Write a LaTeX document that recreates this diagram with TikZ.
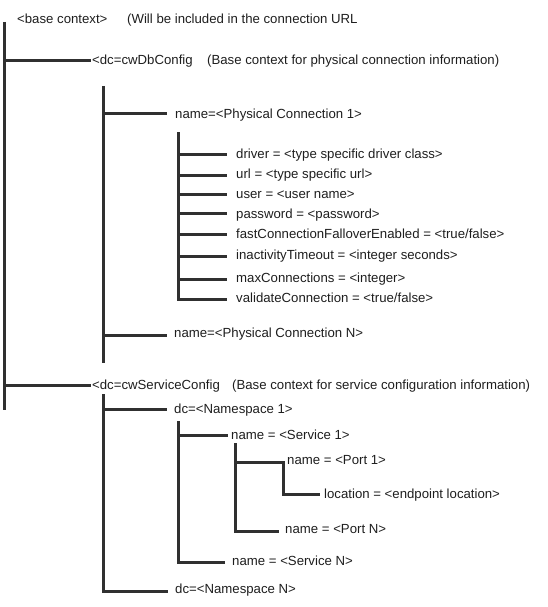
\documentclass[tikz,border=0pt]{standalone}
\usepackage{fontspec}
\setmainfont{Liberation Sans}
\definecolor{ln}{HTML}{303030}
\definecolor{txt}{HTML}{1E1E1E}
\begin{document}
\begin{tikzpicture}[x=1pt,y=-1pt,
  lbl/.style={anchor=base west, inner sep=0pt, font=\fontsize{13.2}{15}\selectfont, text=txt},
  br/.style={line width=3pt, draw=ln, line cap=butt, line join=miter}]
\useasboundingbox (0,0) rectangle (547,607);
% texts (baseline = line y + 4)
\node[lbl] (base) at (17,24) {<base context>};
\node[lbl] (will) at (127,24) {(Will be included in the connection URL};
\node[lbl] (db) at (92,65) {<dc=cwDbConfig};
\node[lbl] (dbnote) at (207,65) {(Base context for physical connection information)};
\node[lbl] (pc1) at (175,118) {name=<Physical Connection 1>};
\node[lbl] (driver) at (236,158) {driver = <type specific driver class>};
\node[lbl] (url) at (236,178) {url = <type specific url>};
\node[lbl] (user) at (236,198) {user = <user name>};
\node[lbl] (pw) at (236,218) {password = <password>};
\node[lbl] (fast) at (236,238) {fastConnectionFalloverEnabled = <true/false>};
\node[lbl] (inact) at (236,259) {inactivityTimeout = <integer seconds>};
\node[lbl] (maxc) at (236,282) {maxConnections = <integer>};
\node[lbl] (valid) at (236,302) {validateConnection = <true/false>};
\node[lbl] (pcN) at (174,337) {name=<Physical Connection N>};
\node[lbl] (svc) at (92,389) {<dc=cwServiceConfig};
\node[lbl] (svcnote) at (232,389) {(Base context for service configuration information)};
\node[lbl] (ns1) at (174,413) {dc=<Namespace 1>};
\node[lbl] (s1) at (231,439) {name = <Service 1>};
\node[lbl] (p1) at (287,464) {name = <Port 1>};
\node[lbl] (loc) at (324,498) {location = <endpoint location>};
\node[lbl] (pN) at (285,533) {name = <Port N>};
\node[lbl] (sN) at (232,565) {name = <Service N>};
\node[lbl] (nsN) at (175,593) {dc=<Namespace N>};
% bar coordinates
\coordinate (v1t) at (4,22);   \coordinate (v1b) at (4,410);
\coordinate (v2t) at (103,86); \coordinate (v2b) at (103,363);
\coordinate (v3t) at (178,132);
\coordinate (v4t) at (103,394);
\coordinate (v5t) at (178,421);
\coordinate (v6t) at (235,443);
\coordinate (p1c) at (283,462);
% bars
\draw[br] (v1t) -- (v1b);
\draw[br] (v2t) -- (v2b);
\draw[br] (v3t) -- (v3t |- 0,299) -- ++(49,0);
\draw[br] (v4t) -- (v4t |- 0,591) -- ++(65,0);
\draw[br] (v5t) -- (v5t |- 0,562) -- ++(47,0);
\draw[br] (v6t) -- (v6t |- 0,531) -- ++(44,0);
% branches
\draw[br] (5.5,61) -- ++(85,0);
\draw[br] (5.5,385) -- ++(85,0);
\draw[br] (104.5,114) -- ++(62,0);
\draw[br] (104.5,335) -- ++(62,0);
\foreach \yy in {154,175,194,213,234,256,279}{\draw[br] (179.5,\yy) -- ++(47.5,0);}
\draw[br] (104.5,409) -- ++(62.5,0);
\draw[br] (179.5,435) -- ++(48.5,0);
\draw[br] (236.5,462) -- (p1c) -- (p1c |- 0,494) -- ++(37,0);
\end{tikzpicture}
\end{document}
